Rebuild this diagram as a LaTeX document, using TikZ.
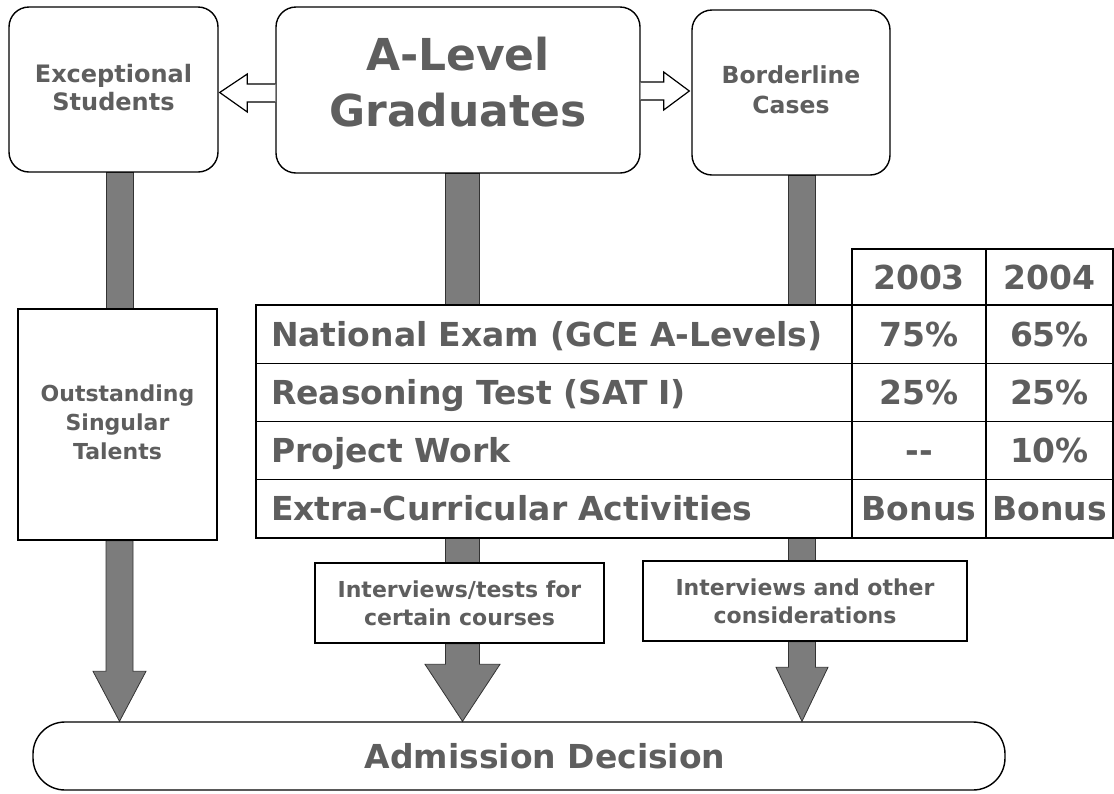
\documentclass[tikz,border=0pt]{standalone}
\usepackage{fontspec}
\setmainfont{DejaVu Sans}
\usetikzlibrary{shapes.geometric, arrows.meta, positioning, calc, backgrounds}
\definecolor{txtgray}{HTML}{5E5E5E}
\definecolor{bargray}{HTML}{7C7C7C}
\definecolor{bardark}{HTML}{333333}

\begin{document}
\begin{tikzpicture}[
    x=1pt, y=-1pt,
    rbox/.style={rectangle, rounded corners=20pt, draw=black, line width=1.4pt, align=center, text=txtgray},
    sbox/.style={rectangle, draw=black, line width=1.2pt, align=center, text=txtgray},
    cell/.style={rectangle, draw=black, line width=1.2pt, inner sep=2pt, text height=24pt, text depth=0pt, text=txtgray, font=\fontsize{33}{36}\selectfont\bfseries},
    rowlab/.style={minimum width=596pt, minimum height=58.25pt, text width=566pt, inner xsep=15pt, align=left},
    colb/.style={minimum width=134pt, minimum height=58.25pt},
    colc/.style={minimum width=127pt, minimum height=58.25pt},
    thickbar/.style={fill=bargray, draw=bardark, line width=0.8pt},
    hollow/.style={fill=white, draw=black, line width=1.2pt, line join=miter}
]
\useasboundingbox (0,0) rectangle (1114,793);

% Top boxes
\node[rbox, minimum width=209pt, minimum height=165pt, text depth=5pt, font=\fontsize{24}{28}\selectfont\bfseries] (exc) at (113.5,89.5) {Exceptional\\Students};
\node[rbox, minimum width=364pt, minimum height=166pt, text depth=16pt, font=\fontsize{44}{56}\selectfont\bfseries] (grad) at (458,90) {A-Level\\Graduates};
\node[rbox, minimum width=198pt, minimum height=165pt, text depth=6pt, font=\fontsize{23.5}{30}\selectfont\bfseries] (bord) at (791,92.5) {Borderline\\Cases};

% Left column
\node[sbox, minimum width=199pt, minimum height=231pt, text depth=4pt, font=\fontsize{22}{29}\selectfont\bfseries] (ost) at (117.5,424.5) {Outstanding\\Singular\\Talents};

% Table header
\node[cell, colb, minimum height=56pt] (h03) at (919,277) {2003};
\node[cell, colc, minimum height=56pt] (h04) at (1049.5,277) {2004};

% Table rows
\node[cell, rowlab] (lab1) at (554,334.1) {National Exam (GCE A-Levels)};
\node[cell, colb] (a1) at (919,334.1) {75\%};
\node[cell, colc] (b1) at (1049.5,334.1) {65\%};

\node[cell, rowlab] (lab2) at (554,392.4) {Reasoning Test (SAT I)};
\node[cell, colb] (a2) at (919,392.4) {25\%};
\node[cell, colc] (b2) at (1049.5,392.4) {25\%};

\node[cell, rowlab] (lab3) at (554,450.6) {Project Work};
\node[cell, colb] (a3) at (919,450.6) {{-}{-}};
\node[cell, colc] (b3) at (1049.5,450.6) {10\%};

\node[cell, rowlab] (lab4) at (554,508.9) {Extra-Curricular Activities};
\node[cell, colb] (a4) at (919,508.9) {Bonus};
\node[cell, colc] (b4) at (1049.5,508.9) {Bonus};

% Lower boxes
\node[sbox, minimum width=289pt, minimum height=80pt, font=\fontsize{22}{28}\selectfont\bfseries] (intv) at (459.5,603) {Interviews/tests for\\certain courses};
\node[sbox, minimum width=324pt, minimum height=80pt, font=\fontsize{22}{28}\selectfont\bfseries] (cons) at (805,601) {Interviews and other\\considerations};

% Decision
\node[rbox, rounded corners=32pt, minimum width=972pt, minimum height=68pt] (adm) at (519,756) {};
\node[text=txtgray, font=\fontsize{33}{36}\selectfont\bfseries] (admlab) at ($(adm.center)+(26,0)$) {Admission Decision};

% Hollow arrows
\draw[hollow] ($(grad.west)+(0,-6)$) -- ++(-28,0) -- ++(0,-10) -- ($(exc.east)+(1,3)$) -- ($(grad.west)+(-28,22)$) -- ++(0,-10) -- ($(grad.west)+(0,12)$);
\draw[hollow] ($(grad.east)+(0,-8)$) -- ++(23,0) -- ++(0,-10) -- ($(bord.west)+(-2,-1.5)$) -- ($(grad.east)+(23,20)$) -- ++(0,-10) -- ($(grad.east)+(0,10)$);

% Thick bars
\coordinate (colA) at (119.5,0);
\coordinate (colB) at (462.5,0);
\coordinate (colC) at (802,0);
\begin{scope}[on background layer]
\draw[thickbar] ($(colA |- exc.south)+(-13.5,0)$) rectangle ($(colA |- ost.north)+(13.5,0)$);
\draw[thickbar] ($(colB |- grad.south)+(-17,0)$) rectangle ($(colB |- lab1.north)+(17,0)$);
\draw[thickbar] ($(colC |- bord.south)+(-13.5,0)$) rectangle ($(colC |- lab1.north)+(13.5,0)$);

\draw[thickbar] ($(colA |- ost.south)+(-13.5,0)$) -- ($(colA |- adm.north)+(-13.5,-50)$) -- ++(-13,0) -- (colA |- adm.north) -- ($(colA |- adm.north)+(26.5,-50)$) -- ++(-13,0) -- ($(colA |- ost.south)+(13.5,0)$) -- cycle;

\draw[thickbar] ($(colB |- lab4.south)+(-17,0)$) rectangle ($(colB |- intv.north)+(17,0)$);
\draw[thickbar] ($(colB |- intv.south)+(-17,0)$) -- ($(colB |- adm.north)+(-17,-57)$) -- ++(-20.5,0) -- (colB |- adm.north) -- ($(colB |- adm.north)+(37.5,-57)$) -- ++(-20.5,0) -- ($(colB |- intv.south)+(17,0)$) -- cycle;

\draw[thickbar] ($(colC |- lab4.south)+(-13.5,0)$) rectangle ($(colC |- cons.north)+(13.5,0)$);
\draw[thickbar] ($(colC |- cons.south)+(-13.5,0)$) -- ($(colC |- adm.north)+(-13.5,-54)$) -- ++(-12.5,0) -- (colC |- adm.north) -- ($(colC |- adm.north)+(26,-54)$) -- ++(-12.5,0) -- ($(colC |- cons.south)+(13.5,0)$) -- cycle;
\end{scope}

\end{tikzpicture}
\end{document}
